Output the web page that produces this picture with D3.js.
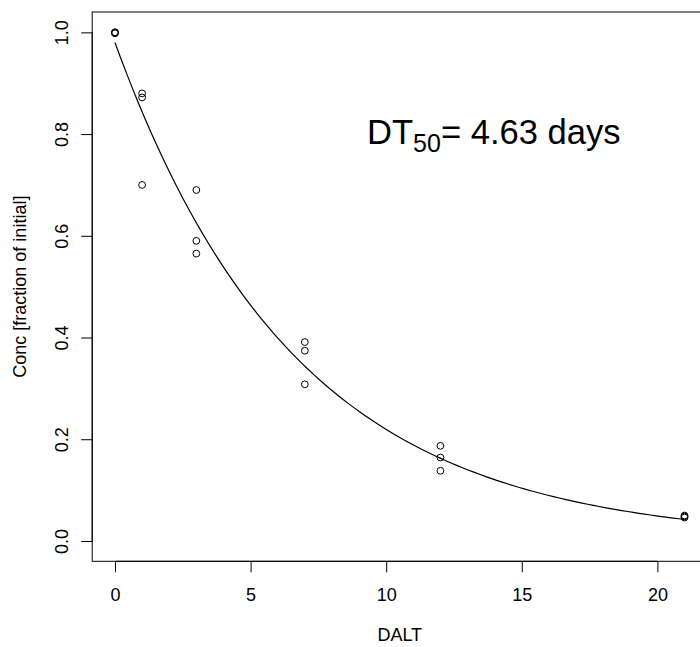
<!DOCTYPE html>
<html>
<head>
<meta charset="utf-8">
<script src="https://cdn.jsdelivr.net/npm/d3@7"></script>
<style>
  html, body { margin: 0; padding: 0; background: #fff; }
  svg { display: block; font-family: "Liberation Sans", Arial, Helvetica, sans-serif; }
</style>
</head>
<body>
<svg id="chart" width="700" height="647"></svg>
<script>
// Observed residues: days after last treatment and concentration as fraction of initial
const days = [0, 0, 0, 1, 1, 1, 3, 3, 3, 7, 7, 7, 12, 12, 12, 21, 21, 21];
const conc = [1.0, 1.0, 0.998, 0.880, 0.872, 0.700, 0.690, 0.590, 0.565,
              0.391, 0.374, 0.308, 0.187, 0.164, 0.138, 0.050, 0.048, 0.046];

// First-order decline fitted to the residues
const c0 = 0.98;
const dt50 = 4.63;

// Axis ticks
const xTicks = [0, 5, 10, 15, 20];
const yTicks = [0.0, 0.2, 0.4, 0.6, 0.8, 1.0];

(function draw() {
  const svg = d3.select("#chart");
  const W = 700, H = 647;
  svg.append("rect").attr("width", W).attr("height", H).attr("fill", "#fff");

  // Plot region (R-style 4% padding around the data range)
  const pL = 92.2, pR = 707.3, pT = 12, pB = 561.3;
  const xPad = 0.04 * (d3.max(days) - d3.min(days));
  const x = d3.scaleLinear().domain([d3.min(days) - xPad, d3.max(days) + xPad]).range([pL, pR]);
  const y = d3.scaleLinear().domain([-0.04, 1.04]).range([pB, pT]);

  const g = svg.append("g");

  // Bottom axis
  const xAxis = d3.axisBottom(x).tickValues(xTicks).tickSize(11).tickPadding(16)
    .tickFormat(d3.format("d"));
  const gx = g.append("g").attr("transform", `translate(0,${pB})`).call(xAxis);
  gx.select(".domain").attr("d", `M${x(xTicks[0])},0H${x(xTicks[xTicks.length - 1])}`);
  gx.selectAll("text").attr("font-size", 18).attr("font-family", null).attr("fill", "#000");
  gx.selectAll("line, path").attr("stroke", "#000").attr("stroke-width", 1);

  // Left axis, labels rotated parallel to the axis
  const yAxis = d3.axisLeft(y).tickValues(yTicks).tickSize(11).tickFormat(d3.format(".1f"));
  const gy = g.append("g").attr("transform", `translate(${pL},0)`).call(yAxis);
  gy.select(".domain").attr("d", `M0,${y(yTicks[0])}V${y(yTicks[yTicks.length - 1])}`);
  gy.selectAll("line, path").attr("stroke", "#000").attr("stroke-width", 1);
  gy.selectAll("text")
    .attr("font-size", 18).attr("font-family", null).attr("fill", "#000")
    .attr("x", null).attr("dy", null)
    .attr("text-anchor", "middle")
    .attr("transform", "translate(-24,0) rotate(-90)");

  // Plot box
  g.append("rect")
    .attr("x", pL).attr("y", pT)
    .attr("width", pR - pL).attr("height", pB - pT)
    .attr("fill", "none").attr("stroke", "#000").attr("stroke-width", 1);

  // Axis titles
  svg.append("text")
    .attr("x", (pL + pR) / 2).attr("y", 641)
    .attr("text-anchor", "middle")
    .attr("font-size", 18).text("DALT");

  svg.append("text")
    .attr("transform", `translate(26,${(pT + pB) / 2}) rotate(-90)`)
    .attr("text-anchor", "middle")
    .attr("font-size", 18).text("Conc [fraction of initial]");

  // Fitted decline curve
  const k = Math.log(2) / dt50;
  const tGrid = d3.range(0, 101).map(i => i * d3.max(days) / 100);
  const line = d3.line().x(t => x(t)).y(t => y(c0 * Math.exp(-k * t)));
  g.append("path")
    .datum(tGrid)
    .attr("d", line)
    .attr("fill", "none").attr("stroke", "#000").attr("stroke-width", 1.2);

  // Observations as open circles
  g.selectAll("circle.obs")
    .data(days.map((d, i) => ({ t: d, c: conc[i] })))
    .join("circle")
    .attr("class", "obs")
    .attr("cx", d => x(d.t)).attr("cy", d => y(d.c))
    .attr("r", 3.4)
    .attr("fill", "none").attr("stroke", "#000").attr("stroke-width", 1);

  // Half-life annotation
  const ann = svg.append("text").attr("x", 367).attr("y", 144.3).attr("font-size", 34.6);
  ann.append("tspan").text("DT");
  ann.append("tspan").attr("font-size", 25).attr("dy", 7.4).text("50");
  ann.append("tspan").attr("dy", -7.4).text("= " + dt50.toFixed(2) + " days");
})();
</script>
</body>
</html>
